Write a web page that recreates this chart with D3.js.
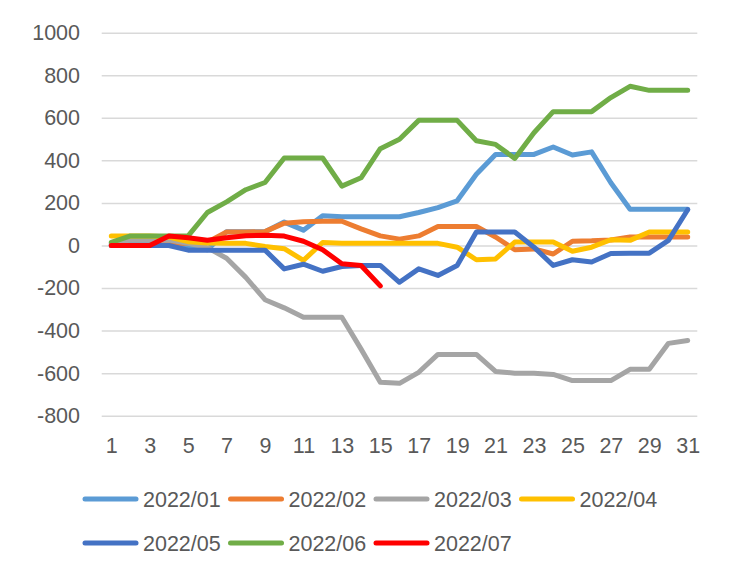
<!DOCTYPE html>
<html>
<head>
<meta charset="utf-8">
<script src="https://cdn.jsdelivr.net/npm/d3@7"></script>
<style>
  body { margin: 0; background: #fff; }
  .chart { width: 732px; height: 568px; }
  text { font-family: "Liberation Sans", Arial, sans-serif; fill: #595959; }
</style>
</head>
<body>
<div class="chart"></div>
<script>
// days of month
const days = d3.range(1, 32);
const xTickLabels = d3.range(1, 32, 2);
const yTicks = [-800, -600, -400, -200, 0, 200, 400, 600, 800, 1000];

const seriesNames = ['2022/01', '2022/02', '2022/03', '2022/04', '2022/05', '2022/06', '2022/07'];
const seriesColors = ['#5B9BD5', '#ED7D31', '#A5A5A5', '#FFC000', '#4472C4', '#70AD47', '#FF0000'];

const s202201 = [5, 5, 5, 5, 0, -20, 65, 65, 65, 110, 72, 140, 135, 135, 135, 135, 155, 178, 210, 335, 428, 428, 428, 463, 425, 440, 295, 170, 170, 170, 170];
const s202202 = [0, 0, 0, 10, 10, 15, 63, 63, 65, 105, 112, 114, 114, 78, 45, 30, 45, 89, 89, 89, 40, -20, -16, -40, 20, 22, 26, 40, 40, 40, 40];
const s202203 = [10, 25, 25, 25, 10, -10, -60, -150, -255, -293, -337, -337, -337, -487, -643, -648, -596, -512, -512, -512, -592, -600, -600, -606, -635, -635, -635, -582, -582, -460, -447];
const s202204 = [45, 45, 45, 40, 18, 12, 10, 10, -5, -15, -70, 14, 10, 10, 10, 10, 10, 10, -8, -67, -63, 16, 16, 16, -27, -8, 27, 24, 63, 63, 63];
const s202205 = [0, 0, 0, 0, -22, -22, -22, -22, -22, -110, -88, -121, -99, -94, -94, -173, -110, -141, -94, 63, 63, 63, -8, -94, -67, -78, -38, -36, -36, 24, 168];
const s202206 = [15, 45, 45, 45, 45, 155, 205, 262, 296, 411, 411, 411, 279, 318, 455, 499, 588, 588, 588, 492, 475, 409, 530, 629, 629, 629, 695, 748, 729, 729, 729];
const s202207 = [0, 0, 0, 45, 36, 25, 36, 46, 48, 44, 20, -20, -86, -94, -190];

const allSeries = [s202201, s202202, s202203, s202204, s202205, s202206, s202207];

const LineData = seriesNames.map((name, i) => ({
    name: name,
    color: seriesColors[i],
    data: allSeries[i].map((v, j) => ({ day: days[j], value: v }))
}));

const width = 732, height = 568;
const plot = { left: 101.7, right: 697.3, top: 32.7, bottom: 415.7 };
const fontSize = 21.5;

const svg = d3.select('.chart')
    .append('svg')
    .attr('width', width)
    .attr('height', height);

const x = d3.scalePoint()
    .domain(days)
    .range([plot.left, plot.right])
    .padding(0.5);
const y = d3.scaleLinear()
    .domain([-800, 1000])
    .range([plot.bottom, plot.top]);

// y axis with gridlines
const yAxis = svg.append('g')
    .attr('class', 'yaxis')
    .attr('transform', `translate(${plot.left}, 0)`)
    .call(d3.axisLeft(y)
        .tickValues(yTicks)
        .tickFormat(d => String(d))
        .tickSize(-(plot.right - plot.left))
        .tickPadding(21.7));
yAxis.select('.domain').remove();
yAxis.selectAll('line').style('stroke', '#D9D9D9').style('stroke-width', 1.5);
yAxis.selectAll('text').style('font-size', fontSize + 'px').style('fill', '#595959');

// x axis labels (odd days)
const xAxis = svg.append('g')
    .attr('class', 'xaxis')
    .attr('transform', `translate(0, ${plot.bottom})`)
    .call(d3.axisBottom(x).tickValues(xTickLabels).tickSize(0).tickPadding(22.5));
xAxis.select('.domain').remove();
xAxis.selectAll('text').style('font-size', fontSize + 'px').style('fill', '#595959');

const line = d3.line()
    .x(d => x(d.day))
    .y(d => y(d.value));

svg.append('g').attr('class', 'lines')
    .selectAll('path')
    .data(LineData)
    .enter()
    .append('path')
    .attr('d', d => line(d.data))
    .style('stroke', d => d.color)
    .style('stroke-width', 5)
    .style('stroke-linejoin', 'round')
    .style('stroke-linecap', 'round')
    .style('fill', 'none');

// legend, 4 per row
const legend = svg.append('g').attr('class', 'legend');
const item = legend.selectAll('.item')
    .data(LineData)
    .enter()
    .append('g')
    .attr('class', 'item')
    .attr('transform', (d, i) => `translate(${83 + (i % 4) * 145.5}, ${499 + Math.floor(i / 4) * 44})`);
item.append('line')
    .attr('x1', 2).attr('x2', 53)
    .attr('y1', 0).attr('y2', 0)
    .style('stroke', d => d.color)
    .style('stroke-width', 5)
    .style('stroke-linecap', 'round');
item.append('text')
    .attr('x', 60)
    .attr('y', 0)
    .attr('dy', '0.35em')
    .style('font-size', fontSize + 'px')
    .text(d => d.name);
</script>
</body>
</html>
